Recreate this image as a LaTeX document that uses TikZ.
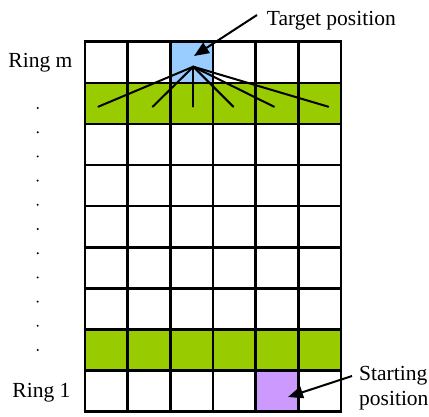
\documentclass[tikz,border=0pt]{standalone}
\usepackage{fontspec}
\setmainfont{Liberation Serif}
\usetikzlibrary{arrows.meta}
\definecolor{cellblue}{HTML}{99CCFF}
\definecolor{cellgreen}{HTML}{99CC00}
\definecolor{cellpurple}{HTML}{CC99FF}
\tikzset{
  gridline/.style={line width=2.6pt},
  starline/.style={line width=2pt, line cap=round},
  pointer/.style={line width=2pt, -{Triangle[length=15pt,width=12pt]}},
  lbl/.style={inner sep=0pt, font=\fontsize{21.5}{25}\selectfont},
  dotmark/.style={fill=black, draw=none}
}
\begin{document}
\begin{tikzpicture}[x=1pt,y=-1pt]
\useasboundingbox (0,0) rectangle (429,416);
\def\cw{42.667}
\def\rh{41.1}
\def\gx{85}
\def\gy{41.7}
% fills
\fill[cellgreen] (\gx,\gy+\rh) rectangle (\gx+6*\cw,\gy+2*\rh);
\fill[cellgreen] (\gx,\gy+7*\rh) rectangle (\gx+6*\cw,\gy+8*\rh);
\fill[cellblue] (\gx+2*\cw,\gy) rectangle (\gx+3*\cw,\gy+\rh);
\fill[cellpurple] (\gx+4*\cw,\gy+8*\rh) rectangle (\gx+5*\cw,\gy+9*\rh);
% grid
\foreach \i in {0,...,6} \draw[gridline] (\gx+\i*\cw,\gy) -- (\gx+\i*\cw,\gy+9*\rh);
\foreach \j in {0,...,9} \draw[gridline] (\gx-1.3,\gy+\j*\rh) -- (\gx+6*\cw+1.3,\gy+\j*\rh);
% star lines
\coordinate (hub) at (193.3,66.7);
\coordinate (e1) at (98.3,106.7);
\coordinate (e2) at (152.7,106.7);
\coordinate (e3) at (193.3,106.7);
\coordinate (e4) at (233.3,106.7);
\coordinate (e5) at (274,106.7);
\coordinate (e6) at (328.3,106.7);
\foreach \e in {e1,e2,e3,e4,e5,e6} \draw[starline] (hub) -- (\e);
% labels
\node[lbl, anchor=base west] (target) at (266.7,25) {Target position};
\node[lbl, anchor=base west] (ringm) at (8.3,67.7) {Ring m};
\node[lbl, anchor=base west] (ring1) at (12.3,397) {Ring 1};
\node[lbl, anchor=base west] (start1) at (359,380) {Starting};
\node[lbl, anchor=base west] (start2) at (359,405) {position};
% arrows
\coordinate (ttail) at (257,15);
\coordinate (ttip) at (194,56);
\draw[pointer] (ttail) -- (ttip);
\coordinate (stail) at (352,376);
\coordinate (stip) at (288,397);
\draw[pointer] (stail) -- (stip);
% dots
\foreach \k in {0,...,10} \fill[dotmark] (37.7,108+\k*24.2) circle (1.1);
\end{tikzpicture}
\end{document}
